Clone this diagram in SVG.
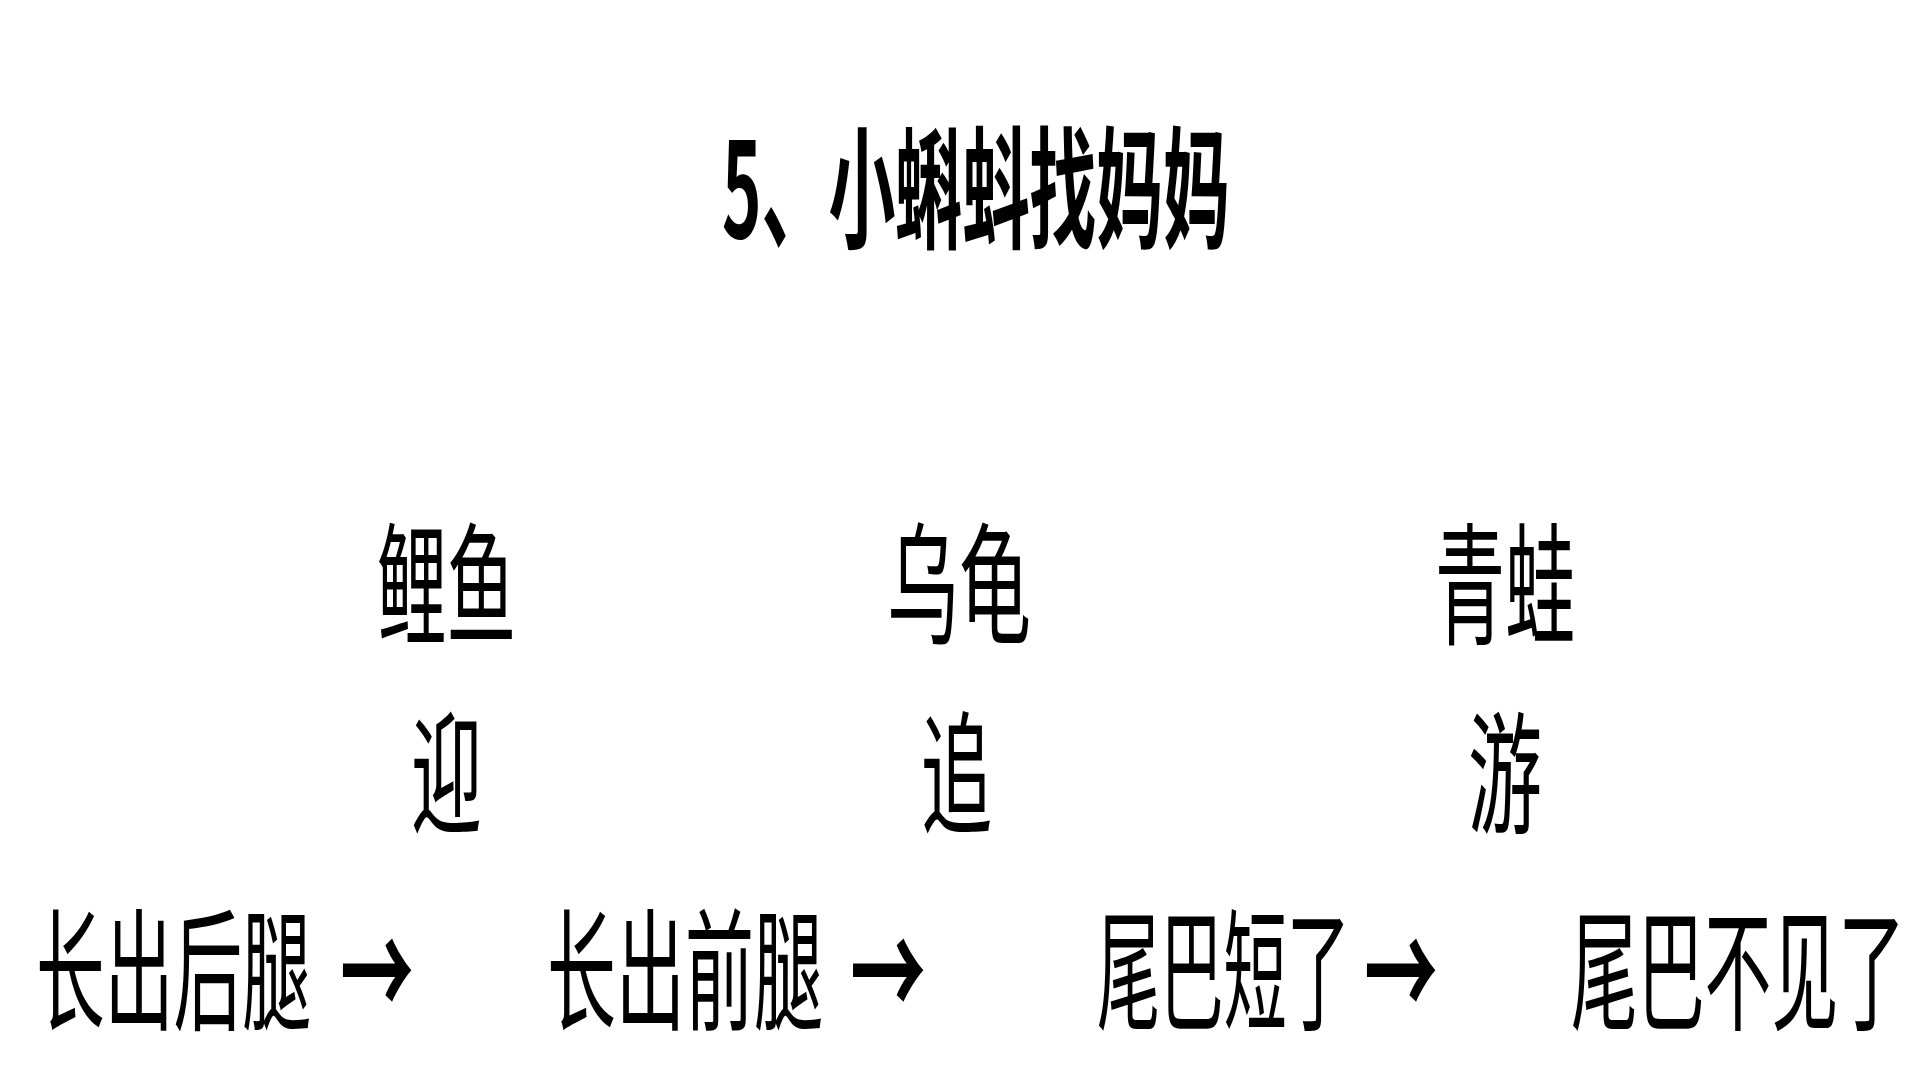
<svg xmlns="http://www.w3.org/2000/svg" width="1920" height="1080" viewBox="0 0 1920 1080">
<style>
  .t { font-family: "Noto Sans CJK SC", "Noto Sans", sans-serif; font-size: 132px; fill: #000; }
  .title { font-weight: 700; }
  .arr { font-weight: 700; }
</style>
<rect width="1920" height="1080" fill="#ffffff"/>
<g id="title">
  <text class="t title" transform="translate(722,238) scale(0.5,1)" x="0" y="0" textLength="1016" lengthAdjust="spacingAndGlyphs">5、小蝌蚪找妈妈</text>
</g>
<g id="animal-carp">
  <text class="t" transform="translate(377,634) scale(0.5,1)" x="0" y="0" textLength="278" lengthAdjust="spacingAndGlyphs">鲤鱼</text>
</g>
<g id="animal-turtle">
  <text class="t" transform="translate(887,634) scale(0.5,1)" x="0" y="0" textLength="288" lengthAdjust="spacingAndGlyphs">乌龟</text>
</g>
<g id="animal-frog">
  <text class="t" transform="translate(1435,634) scale(0.5,1)" x="0" y="0" textLength="280" lengthAdjust="spacingAndGlyphs">青蛙</text>
</g>
<g id="verb-ying">
  <text class="t" transform="translate(411,823) scale(0.5,1)" x="0" y="0" textLength="142" lengthAdjust="spacingAndGlyphs">迎</text>
</g>
<g id="verb-zhui">
  <text class="t" transform="translate(921,823) scale(0.5,1)" x="0" y="0" textLength="142" lengthAdjust="spacingAndGlyphs">追</text>
</g>
<g id="verb-you">
  <text class="t" transform="translate(1468,823) scale(0.5,1)" x="0" y="0" textLength="148" lengthAdjust="spacingAndGlyphs">游</text>
</g>
<g id="stage-1">
  <text class="t" transform="translate(0,1020) scale(0.5,1)" y="0"><tspan x="72" textLength="550" lengthAdjust="spacingAndGlyphs">长出后腿</tspan><tspan class="arr" x="680" textLength="148" lengthAdjust="spacingAndGlyphs">→</tspan></text>
</g>
<g id="stage-2">
  <text class="t" transform="translate(0,1020) scale(0.5,1)" y="0"><tspan x="1094" textLength="552" lengthAdjust="spacingAndGlyphs">长出前腿</tspan><tspan class="arr" x="1700" textLength="152" lengthAdjust="spacingAndGlyphs">→</tspan></text>
</g>
<g id="stage-3">
  <text class="t" transform="translate(0,1020) scale(0.5,1)" y="0"><tspan x="2194" textLength="506" lengthAdjust="spacingAndGlyphs">尾巴短了</tspan><tspan class="arr" x="2728" textLength="148" lengthAdjust="spacingAndGlyphs">→</tspan></text>
</g>
<g id="stage-4">
  <text class="t" transform="translate(1571,1020) scale(0.5,1)" x="0" y="0" textLength="668" lengthAdjust="spacingAndGlyphs">尾巴不见了</text>
</g>
<g id="connectors"></g>
</svg>
